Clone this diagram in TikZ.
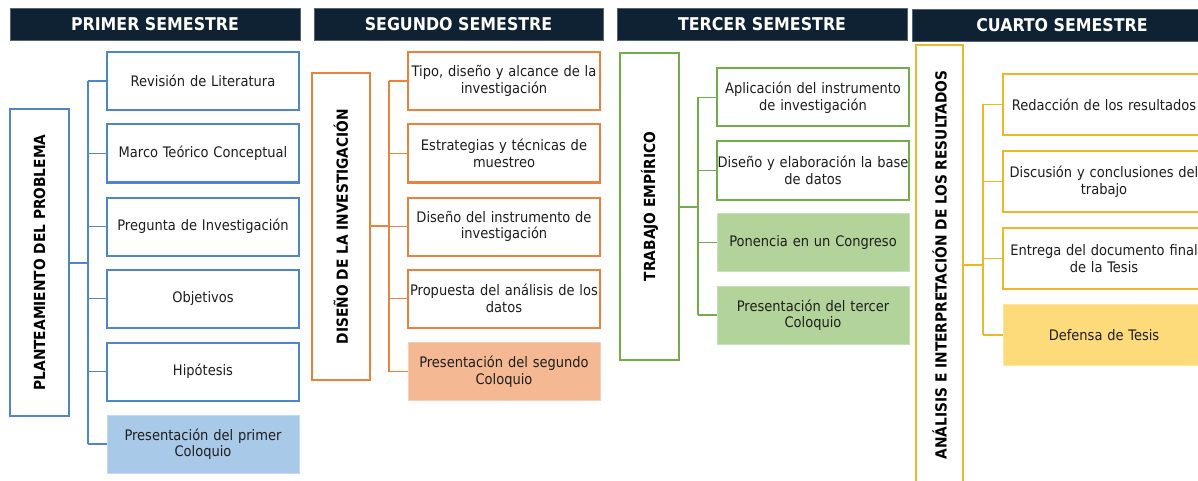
\documentclass[tikz,border=0pt]{standalone}
\usepackage{fontspec}
\setmainfont{DejaVu Sans Condensed}
\definecolor{hdr}{HTML}{0E2233}
\definecolor{bl}{HTML}{4F86C6}
\definecolor{blf}{HTML}{A9C9E8}
\definecolor{orn}{HTML}{E8823E}
\definecolor{ornf}{HTML}{F4B893}
\definecolor{grn}{HTML}{72AD4A}
\definecolor{grnf}{HTML}{B2D49A}
\definecolor{gld}{HTML}{EDB72A}
\definecolor{gldf}{HTML}{FDDA7A}
\definecolor{txt}{HTML}{1E1E1E}
\tikzset{
  hdrbox/.style={fill=hdr, draw=hdr!70!white, line width=0.8pt, minimum width=#1, minimum height=32, inner sep=0, text=white, font=\fontsize{17.6}{20}\selectfont\bfseries},
  mainbox/.style={draw=#1, line width=2pt, fill=white, inner sep=0, text=black},
  child/.style={draw=#1, line width=2pt, fill=white, inner sep=0, align=center, text=txt, font=\fontsize{14.5}{16.5}\selectfont},
  childf/.style={fill=#1, draw=#1!70!white, line width=0.6pt, inner sep=0, align=center, text=txt, font=\fontsize{14.5}{16.5}\selectfont},
  conn/.style={draw=#1, line width=1.6pt},
  vlab/.style={rotate=90, font=\fontsize{15.3}{17}\selectfont\bfseries, text=black}
}
\begin{document}
\begin{tikzpicture}[x=1pt,y=-1pt]
\useasboundingbox (0,0) rectangle (1198,481);
\clip (0,0) rectangle (1198,481);
\fill[white] (0,0) rectangle (1198,481);
% headers
\node[hdrbox=290] (h1) at (155,24) {PRIMER SEMESTRE};
\node[hdrbox=289] (h2) at (458.5,24) {SEGUNDO SEMESTRE};
\node[hdrbox=290] (h3) at (762,24) {TERCER SEMESTRE};
\node[hdrbox=300] (h4) at (1062,25) {CUARTO SEMESTRE};
% column 1
\node[mainbox=bl, minimum width=59, minimum height=307] (m1) at (39.5,262.5) {};
\node[vlab] at (m1.center) {PLANTEAMIENTO DEL PROBLEMA};
\tikzset{c1/.style={child=bl, minimum width=192, minimum height=58, text width=190}}
\node[c1] (a1) at (203,81) {Revisión de Literatura};
\node[c1] (a2) at (203,153.5) {Marco Teórico Conceptual};
\node[c1] (a3) at (203,226.5) {Pregunta de Investigación};
\node[c1] (a4) at (203,298.5) {Objetivos};
\node[c1] (a5) at (203,371.5) {Hipótesis};
\node[childf=blf, minimum width=192, minimum height=58, text width=190] (a6) at (203,444) {Presentación del primer\\Coloquio};
\coordinate (t1) at (88,263);
\draw[conn=bl] (m1.east |- t1) -- (t1);
\draw[conn=bl] (a1.west -| t1) -- (a6.west -| t1);
\foreach \n in {a1,a2,a3,a4,a5,a6} \draw[conn=bl] (\n.west -| t1) -- (\n.west);
% column 2
\node[mainbox=orn, minimum width=58, minimum height=307] (m2) at (341,226.5) {};
\node[vlab] at (m2.center) {DISEÑO DE LA INVESTIGACIÓN};
\tikzset{c2/.style={child=orn, minimum width=192, minimum height=58, text width=192}}
\node[c2] (b1) at (504,81) {Tipo, diseño y alcance de la\\investigación};
\node[c2] (b2) at (504,153.5) {Estrategias y técnicas de\\muestreo};
\node[c2] (b3) at (504,226.5) {Diseño del instrumento de\\investigación};
\node[c2] (b4) at (504,298.5) {Propuesta del análisis de los\\datos};
\node[childf=ornf, minimum width=192, minimum height=58, text width=190] (b5) at (504,371.5) {Presentación del segundo\\Coloquio};
\coordinate (t2) at (389,226);
\draw[conn=orn] (m2.east |- t2) -- (t2);
\draw[conn=orn] (b1.west -| t2) -- (b5.west -| t2);
\foreach \n in {b1,b2,b3,b4,b5} \draw[conn=orn] (\n.west -| t2) -- (\n.west);
% column 3
\node[mainbox=grn, minimum width=59, minimum height=307] (m3) at (649.5,206.5) {};
\node[vlab] at (m3.center) {TRABAJO EMPÍRICO};
\tikzset{c3/.style={child=grn, minimum width=192, minimum height=58, text width=192}}
\node[c3] (g1) at (813,97.5) {Aplicación del instrumento\\de investigación};
\node[c3] (g2) at (813,170.5) {Diseño y elaboración la base\\de datos};
\node[childf=grnf, minimum width=192, minimum height=58, text width=190] (g3) at (813,242.5) {Ponencia en un Congreso};
\node[childf=grnf, minimum width=192, minimum height=58, text width=190] (g4) at (813,315) {Presentación del tercer\\Coloquio};
\coordinate (t3) at (698,207);
\draw[conn=grn] (m3.east |- t3) -- (t3);
\draw[conn=grn] (g1.west -| t3) -- (g4.west -| t3);
\foreach \n in {g1,g2,g3,g4} \draw[conn=grn] (\n.west -| t3) -- (\n.west);
% column 4
\node[mainbox=gld, minimum width=47, minimum height=445] (m4) at (939.5,267.5) {};
\node[vlab] at (939.5,265) {ANÁLISIS E INTERPRETACIÓN DE LOS RESULTADOS};
\tikzset{c4/.style={child=gld, minimum width=202, minimum height=61, text width=200}}
\node[c4] (d1) at (1104,104.5) {Redacción de los resultados};
\node[c4] (d2) at (1104,181.5) {Discusión y conclusiones del\\trabajo};
\node[c4] (d3) at (1104,258.5) {Entrega del documento final\\de la Tesis};
\node[childf=gldf, minimum width=202, minimum height=61, text width=200] (d4) at (1104,335) {Defensa de Tesis};
\coordinate (t4) at (983,265);
\draw[conn=gld] (m4.east |- t4) -- (t4);
\draw[conn=gld] (d1.west -| t4) -- (d4.west -| t4);
\foreach \n in {d1,d2,d3,d4} \draw[conn=gld] (\n.west -| t4) -- (\n.west);
\end{tikzpicture}
\end{document}
